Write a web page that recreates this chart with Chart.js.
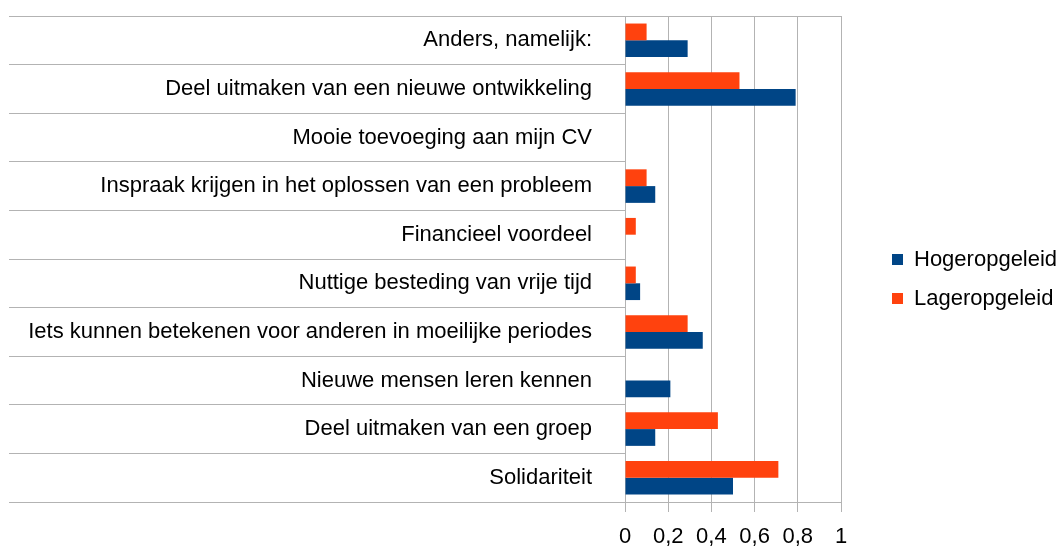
<!DOCTYPE html>
<html lang="nl">
<head>
<meta charset="UTF-8">
<title>Motivatie</title>
<script src="https://cdn.jsdelivr.net/npm/chart.js@4"></script>
<style>
  html, body { margin: 0; padding: 0; background: #fff; }
  #wrap { width: 1057px; height: 550px; position: relative; }
</style>
</head>
<body>
<div id="wrap"><canvas id="chart"></canvas></div>
<script>
const categories = [
  'Anders, namelijk:',
  'Deel uitmaken van een nieuwe ontwikkeling',
  'Mooie toevoeging aan mijn CV',
  'Inspraak krijgen in het oplossen van een probleem',
  'Financieel voordeel',
  'Nuttige besteding van vrije tijd',
  'Iets kunnen betekenen voor anderen in moeilijke periodes',
  'Nieuwe mensen leren kennen',
  'Deel uitmaken van een groep',
  'Solidariteit'
]
const hoger = [0.29, 0.79, 0, 0.14, 0, 0.07, 0.36, 0.21, 0.14, 0.5]
const lager = [0.1, 0.53, 0, 0.1, 0.05, 0.05, 0.29, 0, 0.43, 0.71]
const xTicks = [0, 0.2, 0.4, 0.6, 0.8, 1]

const gridGrey = '#b3b3b3'
const font = { family: "'Liberation Sans', Arial, sans-serif", size: 22 }

// push the legend away from the plot, like the original
const legendShift = {
  id: 'legendShift',
  afterLayout(chart) {
    const lg = chart.legend
    if (!lg) return
    lg.left += 34
    lg.right += 34
    lg.top -= 4
    lg.bottom -= 4
  }
}

const ctx = document.getElementById('chart').getContext('2d')
new Chart(ctx, {
  type: 'bar',
  data: {
    labels: categories,
    datasets: [
      { label: 'Lageropgeleid', data: lager, backgroundColor: '#ff420e', borderWidth: 0 },
      { label: 'Hogeropgeleid', data: hoger, backgroundColor: '#004586', borderWidth: 0 }
    ]
  },
  options: {
    indexAxis: 'y',
    responsive: true,
    maintainAspectRatio: false,
    animation: false,
    categoryPercentage: 0.69,
    barPercentage: 1,
    layout: { padding: { top: 16, left: 9, right: 0, bottom: 0 } },
    scales: {
      x: {
        min: 0,
        max: 1,
        afterBuildTicks: s => { s.ticks = xTicks.map(v => ({ value: v })) },
        ticks: {
          color: '#000',
          font: font,
          padding: 12,
          callback: v => String(Math.round(v * 10) / 10).replace('.', ',')
        },
        grid: { color: gridGrey, lineWidth: 1, tickLength: 10 },
        border: { color: gridGrey },
        afterFit: s => { s.height = 48; s.paddingRight = 216 }
      },
      y: {
        ticks: { color: '#000', font: font, padding: -583 },
        grid: {
          offset: true,
          tickLength: 616,
          tickColor: gridGrey,
          color: c => (c.index === 0 ? gridGrey : 'rgba(0,0,0,0)'),
          lineWidth: 1
        },
        border: { color: gridGrey },
        afterFit: s => { s.width = 616 }
      }
    },
    plugins: {
      legend: {
        position: 'right',
        reverse: true,
        labels: {
          color: '#000',
          font: font,
          boxWidth: 11,
          boxHeight: 11,
          padding: 17
        }
      },
      tooltip: { enabled: false }
    }
  },
  plugins: [legendShift]
})
</script>
</body>
</html>
